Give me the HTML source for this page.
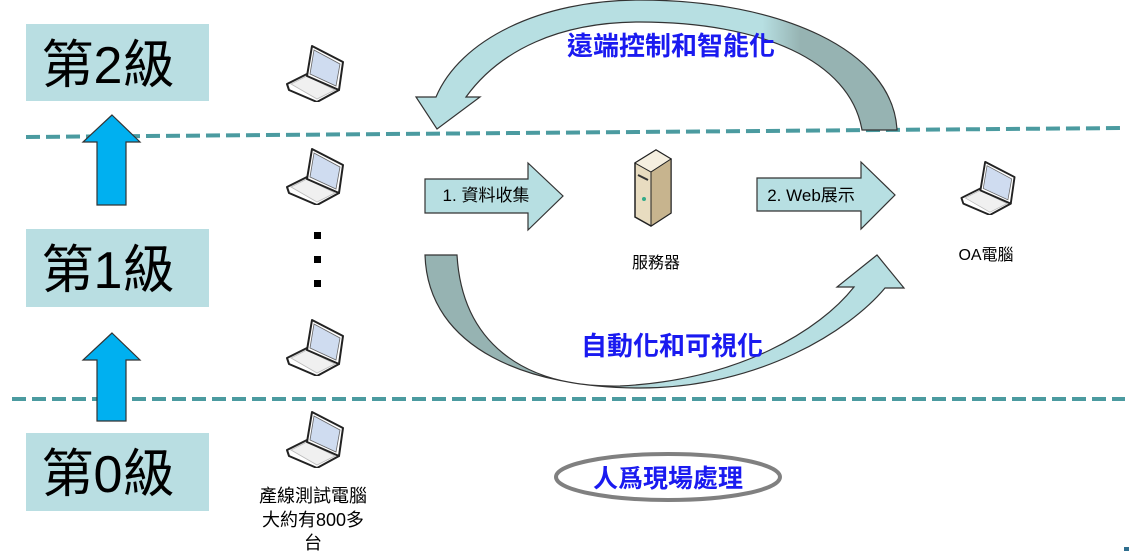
<!DOCTYPE html>
<html><head><meta charset="utf-8"><style>
html,body{margin:0;padding:0;background:#fff}
svg{display:block}
text{font-family:"Liberation Sans","Noto Sans CJK TC",sans-serif}
</style></head><body>
<svg width="1143" height="553" viewBox="0 0 1143 553" xmlns="http://www.w3.org/2000/svg">
<defs>
<symbol id="lap" viewBox="0 0 60 58">
  <path d="M2,40 L22,30 L54,46 L32,58 L4,46 Z" fill="#fff" stroke="#222" stroke-width="2" stroke-linejoin="round"/>
  <path d="M6,40 L22,32 L50,46 L32,55 Z" fill="#f0f0f0" stroke="#bbb" stroke-width="0.8"/>
  <path d="M22,32 L27,2 L58,18 L54,46 Z" fill="#fff" stroke="#222" stroke-width="2" stroke-linejoin="round"/>
  <path d="M25,30 L29,6 L55,20 L51,42 Z" fill="#cfdcf0" stroke="#666" stroke-width="0.8"/>
</symbol>
<linearGradient id="gt" x1="0" y1="0" x2="1" y2="0">
  <stop offset="0" stop-color="#b7dfe2"/><stop offset="0.72" stop-color="#b7dfe2"/><stop offset="0.8" stop-color="#96b3b2"/><stop offset="1" stop-color="#96b3b2"/>
</linearGradient>
<linearGradient id="gb" x1="0" y1="0" x2="1" y2="0">
  <stop offset="0" stop-color="#96b3b2"/><stop offset="0.35" stop-color="#96b3b2"/><stop offset="0.5" stop-color="#b7dfe2"/><stop offset="1" stop-color="#b7dfe2"/>
</linearGradient>
</defs>

<rect x="26" y="24" width="183" height="77" fill="#b9dee2"/>
<rect x="26" y="229" width="183" height="78" fill="#b9dee2"/>
<rect x="26" y="433" width="183" height="78" fill="#b9dee2"/>
<text x="108" y="83" font-size="52" text-anchor="middle" fill="#000">第2級</text>
<text x="108" y="288" font-size="52" text-anchor="middle" fill="#000">第1級</text>
<text x="108" y="492" font-size="52" text-anchor="middle" fill="#000">第0級</text>

<line x1="26" y1="137" x2="1125" y2="128" stroke="#4b9ba0" stroke-width="4" stroke-dasharray="14,6"/>
<line x1="12" y1="399" x2="1125" y2="399" stroke="#4b9ba0" stroke-width="4" stroke-dasharray="14,6"/>

<path d="M112,115 L140,142 L126,142 L126,205 L97,205 L97,142 L83,142 Z" fill="#00b0f0" stroke="#333" stroke-width="1.2"/>
<path d="M112,333 L140,360 L126,360 L126,421 L97,421 L97,360 L83,360 Z" fill="#00b0f0" stroke="#333" stroke-width="1.2"/>

<path d="M897,130 C893,50 780,0 640,0 C540,0 460,40 436,97 L416,97 L437,129 L480,97 L466,97 C500,50 560,22 640,22 C760,22 850,60 862,130 Z" fill="url(#gt)" stroke="#333" stroke-width="1.2"/>
<text x="671" y="55" font-size="26" font-weight="bold" text-anchor="middle" fill="#1a1af0">遠端控制和智能化</text>

<path d="M425,255 C428,350 530,388 640,388 C760,388 850,330 885,288 L904,288 L877,255 L837,287 L854,287 C820,330 740,380 620,386 C520,388 462,340 457,255 Z" fill="url(#gb)" stroke="#333" stroke-width="1.2"/>
<text x="672" y="355" font-size="26" font-weight="bold" text-anchor="middle" fill="#1a1af0">自動化和可視化</text>

<path d="M425,179 L528,179 L528,163 L563,196 L528,230 L528,213 L425,213 Z" fill="#b7dfe2" stroke="#333" stroke-width="1.2"/>
<text x="486" y="201" font-size="17" text-anchor="middle" fill="#000">1. 資料收集</text>
<path d="M757,178 L861,178 L861,162 L895,195 L861,229 L861,211 L757,211 Z" fill="#b7dfe2" stroke="#333" stroke-width="1.2"/>
<text x="811" y="201" font-size="17" text-anchor="middle" fill="#000">2. Web展示</text>

<path d="M635,163 L656,150 L671,159 L671,213 L651,226 L635,217 Z" fill="#e8dcc0" stroke="#222" stroke-width="1.5"/>
<path d="M635,163 L656,150 L671,159 L651,172 Z" fill="#f5efe0" stroke="#222" stroke-width="1"/>
<path d="M651,172 L671,159 L671,213 L651,226 Z" fill="#c7b48e" stroke="#222" stroke-width="1"/>
<line x1="638" y1="175" x2="648" y2="180" stroke="#333" stroke-width="2"/>
<circle cx="644" cy="199" r="2" fill="#3a8"/>
<text x="656" y="268" font-size="16" text-anchor="middle" fill="#000">服務器</text>

<use href="#lap" x="958" y="160" width="60" height="55"/>
<text x="986" y="260" font-size="16" text-anchor="middle" fill="#000">OA電腦</text>

<use href="#lap" x="285" y="44" width="60" height="58"/>
<use href="#lap" x="285" y="147" width="60" height="58"/>
<use href="#lap" x="285" y="318" width="60" height="58"/>
<use href="#lap" x="285" y="410" width="60" height="58"/>
<rect x="314" y="232" width="7" height="7" fill="#000"/>
<rect x="314" y="256" width="7" height="7" fill="#000"/>
<rect x="314" y="280" width="7" height="7" fill="#000"/>

<text x="313" y="502" font-size="18" text-anchor="middle" fill="#000">產線測試電腦</text>
<text x="313" y="526" font-size="18" text-anchor="middle" fill="#000">大約有800多</text>
<text x="313" y="549" font-size="18" text-anchor="middle" fill="#000">台</text>

<ellipse cx="668" cy="477" rx="112" ry="23" fill="#fff" stroke="#808080" stroke-width="4"/>
<text x="668" y="487" font-size="25" font-weight="bold" text-anchor="middle" fill="#1a1af0">人爲現場處理</text>

<rect x="1124" y="547" width="5" height="4" fill="#2e6e8e"/>
</svg>
</body></html>
